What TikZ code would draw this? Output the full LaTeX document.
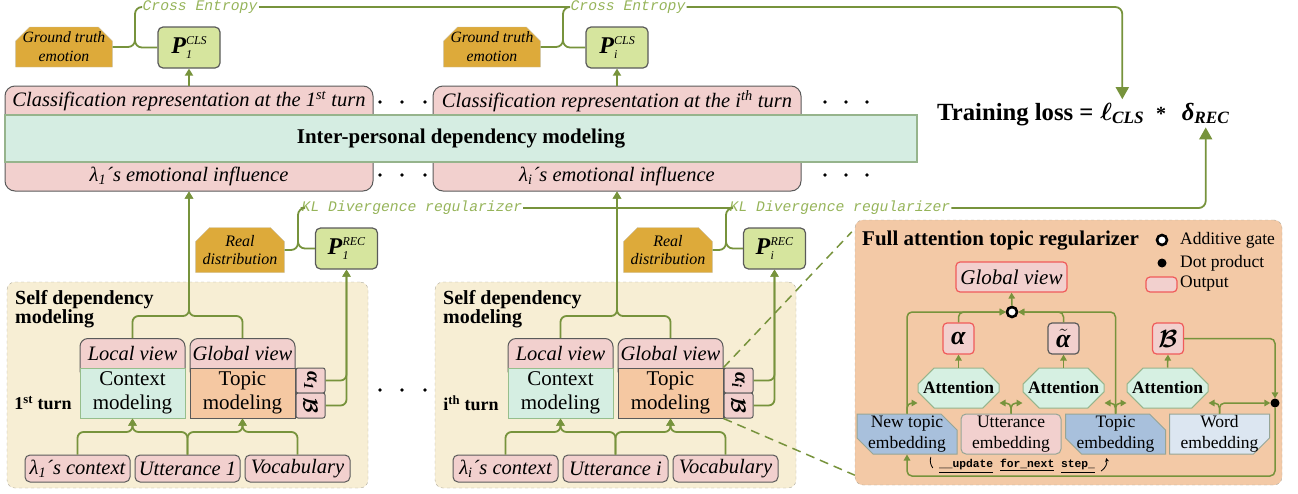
\documentclass[tikz,border=0pt]{standalone}
\usepackage{amsmath,amssymb}
\usepackage{fontspec}
\setmainfont{Liberation Serif}
\setmonofont{Liberation Mono}
\usepackage{tikz}
\usetikzlibrary{arrows.meta}
\usetikzlibrary{shapes.misc}
\usetikzlibrary{calc}
\definecolor{olivel}{RGB}{119,147,60}
\definecolor{olivet}{RGB}{150,180,90}
\definecolor{boxgray}{RGB}{90,90,90}
\definecolor{pinkf}{RGB}{242,208,206}
\definecolor{bandf}{RGB}{213,237,226}
\definecolor{bandd}{RGB}{150,180,140}
\definecolor{goldf}{RGB}{221,170,58}
\definecolor{goldd}{RGB}{200,190,160}
\definecolor{pgreen}{RGB}{214,229,158}
\definecolor{creamf}{RGB}{247,238,212}
\definecolor{creamd}{RGB}{175,170,155}
\definecolor{ctxf}{RGB}{213,238,226}
\definecolor{ctxd}{RGB}{150,190,140}
\definecolor{topf}{RGB}{245,200,162}
\definecolor{peachf}{RGB}{243,201,166}
\definecolor{attf}{RGB}{214,240,226}
\definecolor{attd}{RGB}{150,180,140}
\definecolor{blueemb}{RGB}{168,192,220}
\definecolor{lblue}{RGB}{220,230,241}
\definecolor{embd}{RGB}{150,165,150}
\definecolor{redd}{RGB}{240,90,90}
\newcommand\fsz[2]{\fontsize{#1}{#2}\selectfont}
\newcommand\bi[1]{\textbf{\textit{#1}}}
% P with raised and lowered scripts
\newcommand\probP[2]{\bi{P}\rlap{\raisebox{-5pt}{\fsz{12}{12}\textit{#1}}}\raisebox{9pt}{\fsz{12}{12}\textit{#2}}}
\tikzstyle{pinkbox}=[draw=boxgray, fill=pinkf, line width=1pt]
\tikzstyle{repbox}=[pinkbox, rounded corners=10pt, minimum width=368pt, minimum height=105pt, inner sep=0pt]
\tikzstyle{bandbox}=[draw=bandd, fill=bandf, line width=1.2pt, minimum width=912pt, minimum height=47pt, font=\fsz{21}{24}\bfseries]
\tikzstyle{goldbox}=[chamfered rectangle, chamfered rectangle corners={north west,north east}, chamfered rectangle xsep=7pt, chamfered rectangle ysep=7pt, draw=goldd, fill=goldf, inner xsep=0pt, inner ysep=-5pt, align=center]
\tikzstyle{pbox}=[draw=boxgray, fill=pgreen, line width=1.2pt, rounded corners=5pt, minimum width=62pt, minimum height=41pt, inner sep=0pt, font=\fsz{24}{28}]
\tikzstyle{losstext}=[text=olivet, font=\fsz{14.7}{17}\ttfamily\itshape, inner sep=1pt]
\tikzstyle{sdmbox}=[draw=creamd, fill=creamf, dashed, rounded corners=8pt, minimum width=361pt, minimum height=206pt]
\tikzstyle{viewbox}=[pinkbox, rounded corners=8pt, anchor=north, minimum width=105pt, inner sep=0pt, text height=22pt, text depth=18pt, font=\fsz{20.5}{24}\itshape]
\tikzstyle{modbox}=[line width=1pt, minimum width=105pt, minimum height=50pt, inner sep=0pt, align=center, font=\fsz{21}{24}]
\tikzstyle{smallbox}=[pinkbox, rounded corners=2pt, minimum width=29pt, minimum height=25pt, inner sep=0pt, font=\fsz{20}{22}]
\tikzstyle{inbox}=[pinkbox, rounded corners=5pt, minimum width=105pt, minimum height=27pt, inner sep=0pt, font=\fsz{20.5}{24}\itshape]
\tikzstyle{link}=[draw=olivel, line width=1.8pt, rounded corners=7pt]
\tikzstyle{arr}=[link, rounded corners=6pt, -{Triangle[length=7pt,width=8pt]}]
\tikzstyle{arrbig}=[link, -{Triangle[length=12pt,width=13pt]}]
\tikzstyle{arrs}=[draw=olivel, line width=1.5pt, rounded corners=5pt, -{Triangle[length=6pt,width=6.5pt]}]
\tikzstyle{zoomline}=[draw=olivel, line width=1.5pt, dash pattern=on 9pt off 6pt]
\tikzstyle{fatbox}=[draw=creamd, fill=peachf, dashed, rounded corners=8pt, minimum width=427pt, minimum height=265pt]
\tikzstyle{outbox}=[draw=redd, fill=pinkf, line width=1.2pt, rounded corners=4pt, inner sep=0pt]
\tikzstyle{outsq}=[minimum width=31pt, minimum height=31pt, font=\fsz{26}{28}]
\tikzstyle{attbox}=[chamfered rectangle, chamfered rectangle xsep=10pt, chamfered rectangle ysep=10pt, draw=attd, fill=attf, line width=1pt, minimum width=81pt, minimum height=40pt, inner xsep=-6pt, inner ysep=0pt, font=\fsz{17.5}{20}\bfseries]
\tikzstyle{embbox}=[chamfered rectangle, chamfered rectangle xsep=8pt, chamfered rectangle ysep=8pt, draw=embd, line width=1pt, minimum width=100pt, minimum height=40pt, inner xsep=0pt, inner ysep=-8pt, align=center, font=\fsz{17.5}{21}]
\tikzstyle{gatedot}=[circle, draw=black, fill=white, line width=2.6pt, minimum size=10pt, inner sep=0pt]
\tikzstyle{dotprod}=[circle, fill=black, minimum size=9pt, inner sep=0pt]
\tikzstyle{legtext}=[anchor=west, inner sep=0pt, font=\fsz{17.5}{20}]
\begin{document}
\begin{tikzpicture}[x=1pt,y=-1pt]
\useasboundingbox (0,0) rectangle (1298,493);

% the 1st and the i-th turn
\foreach \k/\dx/\n/\ord in {1/0/1/st,2/428/i/th}{
\begin{scope}[xshift=\dx pt]
  \node[repbox] (rep\k) at (189,138.5) {};
  \node[font=\fsz{20.5}{24}\itshape, inner sep=1pt] (cls\k) at (189,101) {Classification representation at the \n\textsuperscript{\ord} turn};
  \node[font=\fsz{20.5}{24}\itshape, inner sep=1pt] (emo\k) at (189,176) {λ\textsubscript{\n}´s emotional influence};
  \node[goldbox, minimum width=96pt, minimum height=40pt, font=\fsz{15.7}{19}\itshape] (gt\k) at (64,47) {Ground truth\\emotion};
  \node[pbox] (pcls\k) at (189,47.5) {\probP{\n}{CLS}};
  \node[losstext] (ce\k) at (200,7) {Cross Entropy};
  \draw[link] (gt\k.east) -- (gt\k.east -| 135,0) -- (ce\k.west -| 135,0) -- (ce\k.west);
  \draw[link] (pcls\k.west) -- (pcls\k.west -| 135,0) -- (gt\k.north -| 135,0);
  \draw[arr] (rep\k.north) -- (pcls\k.south);
  % KL branch
  \node[goldbox, minimum width=80pt, minimum height=45pt, font=\fsz{16}{18}\itshape] (rd\k) at (240,250) {Real\\distribution};
  \node[pbox] (prec\k) at (346.5,248.5) {\probP{\n}{REC}};
  \node[losstext] (kl\k) at (412,208) {KL Divergence regularizer};
  \draw[link] (rd\k.east) -- (rd\k.east -| 298,0) -- (kl\k.west -| 298,0) -- (kl\k.west);
  \draw[link] (prec\k.west) -- (prec\k.west -| 298,0) -- (rd\k.north -| 298,0);
  % self dependency modeling
  \node[sdmbox] (sdm\k) at (187.5,385) {};
  \node[anchor=north west, inner sep=0pt, align=left, font=\fsz{20}{18}\bfseries] (sdt\k) at (15,290) {Self dependency\\modeling};
  \node[viewbox] (loc\k) at (132.5,338) {Local view};
  \node[viewbox] (glo\k) at (242.5,338) {Global view};
  \node[modbox, fill=ctxf, draw=ctxd] (ctx\k) at (132.5,393) {Context\\modeling};
  \node[modbox, fill=topf, draw=boxgray] (top\k) at (242.5,393) {Topic\\modeling};
  \node[smallbox] (al\k) at (310.5,380.5) {\rotatebox{-90}{$\bi{α}_{\bi{\n}}$}};
  \node[smallbox] (be\k) at (310.5,405.5) {\rotatebox{-90}{$\boldsymbol{\mathcal{B}}$}};
  \node[font=\fsz{18}{20}\bfseries] (turn\k) at (43,403) {\n\textsuperscript{\ord} turn};
  \node[inbox] (lc\k) at (77.5,468.5) {λ\textsubscript{\n}´s context};
  \node[inbox] (ut\k) at (187.5,468.5) {Utterance \n};
  \node[inbox] (vo\k) at (297.5,468.5) {Vocabulary};
  \draw[arr] (lc\k.north) -- (lc\k.north |- 0,432) -- (ctx\k.south |- 0,432) -- (ctx\k.south);
  \draw[arr] (ut\k.north) -- (ut\k.north |- 0,432) -- (ctx\k.south |- 0,432) -- (ctx\k.south);
  \draw[arr] (ut\k.north) -- (ut\k.north |- 0,432) -- (top\k.south |- 0,432) -- (top\k.south);
  \draw[arr] (vo\k.north) -- (vo\k.north |- 0,432) -- (top\k.south |- 0,432) -- (top\k.south);
  \draw[arr] (loc\k.north) -- (loc\k.north |- 0,316) -- (rep\k.south |- 0,316) -- (rep\k.south);
  \draw[arr] (glo\k.north) -- (glo\k.north |- 0,316) -- (rep\k.south |- 0,316) -- (rep\k.south);
  \draw[arr] (al\k.east) -- (al\k.east -| prec\k.south) -- (prec\k.south);
  \draw[arr] (be\k.east) -- (be\k.east -| prec\k.south) -- (prec\k.south);
\end{scope}}

\node[bandbox] (ipd) at (461,138.5) {Inter-personal dependency modeling};
\foreach \y in {102,175}
  \foreach \x in {380,402,425,825,846,867}
    \fill (\x,\y) circle[radius=1.8];
\foreach \x in {380,402,425}
  \fill (\x,390) circle[radius=1.8];

% training loss
\node[anchor=base west, inner sep=0pt, font=\fsz{24.7}{28}\bfseries] (tl) at (937,120) {Training loss =};
\node[anchor=base west, font=\fsz{24.7}{28}] (lcls) at ([xshift=3pt]tl.base east) {$\boldsymbol{\ell}_{\bi{CLS}}$};
\node[anchor=base west, inner sep=0pt, font=\fsz{20}{24}\bfseries] (star) at ([xshift=8pt]lcls.base east) {*};
\node[anchor=base west, font=\fsz{24.7}{28}] (drec) at ([xshift=12pt]star.base east) {$\text{\bi{δ}}_{\bi{REC}}$};
\draw[link] (ce1.east) -- (ce2.west);
\draw[arrbig] (ce2.east) -- (ce2.east -| lcls.north) -- (lcls.north);
\draw[link] (kl1.east) -- (kl2.west);
\draw[arrbig] (kl2.east) -- (kl2.east -| drec.south) -- (drec.south);

% full attention topic regularizer
\node[fatbox] (fatr) at (1068.5,352.5) {};
\draw[zoomline] (al2.north west) -- ([shift={(-3,12)}]fatr.north west);
\draw[zoomline] (top2.south east) -- ([shift={(0,-10)}]fatr.south west);
\node[anchor=west, inner sep=0pt, font=\fsz{21}{24}\bfseries] (fatt) at (862,241) {Full attention topic regularizer};
\node[gatedot] (lgate) at (1162,240) {};
\node[legtext] (lgatet) at (1180,240) {Additive gate};
\node[dotprod] (ldot) at (1162,263) {};
\node[legtext] (ldott) at (1180,263) {Dot product};
\node[outbox, minimum width=31pt, minimum height=15pt] (lout) at (1161.5,284.5) {};
\node[legtext] (loutt) at (1180,284) {Output};
\node[outbox, minimum width=111pt, minimum height=30pt, font=\fsz{21}{24}\itshape] (gview) at (1011.5,277) {Global view};
\node[gatedot] (gate) at (1012,312) {};
\node[outbox, outsq] (alo) at (958.5,338.5) {\bi{α}};
\node[outbox, outsq, draw=boxgray] (alt) at (1063.5,338.5) {$\tilde{\text{\bi{α}}}$};
\node[outbox, outsq] (bcal) at (1168,338.5) {$\boldsymbol{\mathcal{B}}$};
\node[attbox] (att1) at (958.5,388) {Attention};
\node[attbox] (att2) at (1063.5,388) {Attention};
\node[attbox] (att3) at (1167.5,388) {Attention};
\node[embbox, chamfered rectangle corners={north east,south west}, fill=blueemb] (ntemb) at (907,434) {New topic\\embedding};
\node[pinkbox, draw=embd, rounded corners=5pt, minimum width=100pt, minimum height=40pt, inner sep=0pt, align=center, font=\fsz{17.5}{21}] (uemb) at (1011,434) {Utterance\\embedding};
\node[embbox, chamfered rectangle corners={north east,south west}, fill=blueemb] (temb) at (1115.5,434) {Topic\\embedding};
\node[embbox, chamfered rectangle corners={south east}, fill=lblue] (wemb) at (1219.5,434) {Word\\embedding};
\node[dotprod] (dotp) at (1275,403) {};
\node[inner sep=0pt, font=\fsz{11.3}{13}\ttfamily\bfseries] (upd) at (1017,466) {\underline{\_\_update} \underline{for\_next} \underline{step\_}};
\draw[line width=0.8pt] ([shift={(-8,-9)}]upd.west) to[bend right=25] ([shift={(-6,2)}]upd.west);
\draw[line width=0.8pt, -{Stealth[length=4pt,width=4pt]}] ([shift={(6,5)}]upd.east) to[bend right=35] ([shift={(11,-8)}]upd.east);

\draw[arrs] (gate.north) -- (gview.south);
\draw[arrs] (alo.north) -- (alo.north |- gate) -- (gate.west);
\draw[arrs] (ntemb.north) -- (ntemb.north |- gate) -- (gate.west);
\draw[arrs] (alt.north) -- (alt.north |- gate) -- (gate.east);
\draw[arrs] (temb.north) -- (temb.north |- gate) -- (gate.east);
\draw[arrs] (att1.north) -- (alo.south);
\draw[arrs] (att2.north) -- (alt.south);
\draw[arrs] (att3.north) -- (bcal.south);
\draw[arrs] (ntemb.north) -- (ntemb.north |- 0,403) -- (att1.west |- 0,403);
\draw[arrs] (uemb.north) -- (uemb.north |- 0,403) -- (att1.east |- 0,403);
\draw[arrs] (uemb.north) -- (uemb.north |- 0,403) -- (att2.west |- 0,403);
\draw[arrs] (temb.north) -- (temb.north |- 0,403) -- (att2.east |- 0,403);
\draw[arrs] (temb.north) -- (temb.north |- 0,403) -- (att3.west |- 0,403);
\draw[arrs] (wemb.north) -- (wemb.north |- 0,403) -- (att3.east |- 0,403);
\draw[arrs] (wemb.north) -- (wemb.north |- 0,403) -- (dotp.west);
\draw[arrs] (bcal.east) -- (bcal.east -| dotp.north) -- (dotp.north);
\draw[arrs] (dotp.south) -- (dotp.south |- 0,476) -- (ntemb.south |- 0,476) -- (ntemb.south);
\end{tikzpicture}
\end{document}
